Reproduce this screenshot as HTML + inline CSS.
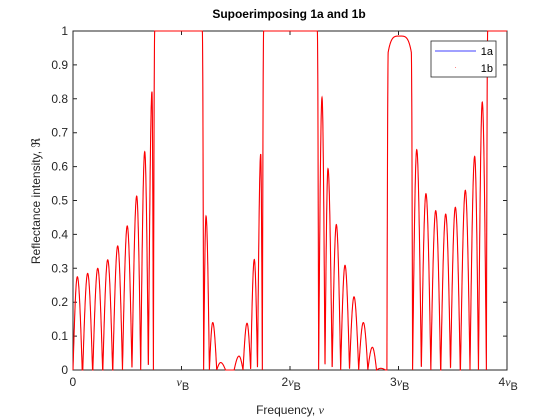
<!DOCTYPE html>
<html><head><meta charset="utf-8"><style>
body{margin:0;background:#fff}
svg{display:block;font-family:"Liberation Sans","DejaVu Sans",sans-serif}
</style></head><body>
<svg id="chart" width="560" height="420" viewBox="0 0 560 420">
<rect width="560" height="420" fill="#fff"/>
<text x="289" y="18" font-size="12" font-weight="bold" text-anchor="middle" fill="#000">Supoerimposing 1a and 1b</text>
<rect x="73" y="31" width="434" height="339" fill="none" stroke="#262626" stroke-width="1"/>
<g id="yt"></g>
<g id="xt"></g>
<path id="s1a" fill="none" stroke="#0000ff" stroke-width="0.6"/>
<path id="s1b" fill="none" stroke="#ff0000" stroke-width="1.1"/>
<text transform="translate(40,201) rotate(-90)" font-size="12" text-anchor="middle" fill="#262626">Reflectance intensity, ℜ</text>
<text x="290" y="414" font-size="12" text-anchor="middle" fill="#262626">Frequency, <tspan font-family="Liberation Serif,serif" font-style="italic">ν</tspan></text>
<g>
<rect x="431" y="41" width="65" height="36" fill="#fff" stroke="#262626" stroke-width="0.8"/>
<line x1="435" y1="51" x2="476" y2="51" stroke="#0000ff" stroke-width="0.8"/>
<text x="493" y="55" font-size="11" text-anchor="end" fill="#000">1a</text>
<rect x="455" y="67" width="1" height="1" fill="#f88"/>
<text x="493" y="72" font-size="11" text-anchor="end" fill="#000">1b</text>
</g>
</svg>
<script>
const lobeCenters=[0.040,0.135,0.228,0.320,0.412,0.500,0.587,0.661,0.728,1.226,1.288,1.361,1.530,1.604,1.671,1.730,2.295,2.350,2.427,2.507,2.590,2.676,2.759,2.836,3.168,3.253,3.343,3.435,3.524,3.616,3.702,3.772];
const lobeHeights=[0.275,0.285,0.30,0.325,0.366,0.425,0.513,0.644,0.821,0.454,0.14,0.022,0.041,0.138,0.326,0.637,0.804,0.594,0.429,0.309,0.216,0.140,0.067,0.005,0.65,0.52,0.47,0.46,0.48,0.53,0.63,0.79];
const bandStarts=[0.747,1.751,2.899,3.816];
const bandEnds=[1.198,2.258,3.124,4.05];
const bandHeights=[1,1,0.985,1];
const yTicks=[0,0.1,0.2,0.3,0.4,0.5,0.6,0.7,0.8,0.9,1];
const yTickLabels=["0","0.1","0.2","0.3","0.4","0.5","0.6","0.7","0.8","0.9","1"];
const xTicks=[0,1,2,3,4];
const xTickPrefix=["0","","2","3","4"];
const xTickHasNu=[false,true,true,true,true];

const X0=73,X1=507,Y0=370,Y1=31;
const sx=v=>X0+(v-0)/(4-0)*(X1-X0);
const sy=v=>Y0-(v-0)/(1-0)*(Y0-Y1);
const NS="http://www.w3.org/2000/svg";
const yt=document.getElementById('yt'),xt=document.getElementById('xt');
yTicks.forEach((v,i)=>{
  const y=sy(v);
  const l=document.createElementNS(NS,'path');
  l.setAttribute('d',`M${X0} ${y}h4M${X1} ${y}h-4`);l.setAttribute('stroke','#262626');
  
  
  yt.appendChild(l);
  const t=document.createElementNS(NS,'text');
  t.setAttribute('x',X0-5);t.setAttribute('y',y+4);t.setAttribute('font-size','12');
  t.setAttribute('text-anchor','end');t.setAttribute('fill','#262626');t.textContent=yTickLabels[i];
  
  
  yt.appendChild(t);
});
xTicks.forEach((v,i)=>{
  const x=sx(v);
  const l=document.createElementNS(NS,'path');
  l.setAttribute('d',`M${x} ${Y0}v-4M${x} ${Y1}v4`);l.setAttribute('stroke','#262626');
  
  
  xt.appendChild(l);
  const t=document.createElementNS(NS,'text');
  t.setAttribute('y',Y0+16);t.setAttribute('font-size','12');t.setAttribute('fill','#262626');
  let w=(xTickPrefix[i].length*7)+(xTickHasNu[i]?14:0);
  t.setAttribute('x',x-w/2+(xTickHasNu[i]?2:0));
  let html=xTickPrefix[i];
  if(xTickHasNu[i]) html+='<tspan font-family="Liberation Serif,serif" font-style="italic">ν</tspan><tspan dy="4" font-size="11">B</tspan>';
  t.innerHTML=html;
  
  
  xt.appendChild(t);
});

const W=0.006;
const feats=[];
lobeCenters.forEach((c,i)=>feats.push({t:'l',c:c,h:lobeHeights[i],L:c,R:c}));
bandStarts.forEach((s,i)=>feats.push({t:'b',s:bandStarts[i],e:bandEnds[i],h:bandHeights[i],L:bandStarts[i]-W,R:bandEnds[i]+W}));
feats.sort((a,b)=>a.L-b.L);
feats.forEach((f,i)=>{
  if(f.t==='l'){
    const pf=i>0?feats[i-1]:null, nf=i<feats.length-1?feats[i+1]:null;
    const prev=pf?(pf.t==='b'?pf.R:(pf.R+f.c)/2):-1;
    const next=nf?(nf.t==='b'?nf.L:(nf.L+f.c)/2):9;
    f.a=Math.max(0,f.c-0.045,prev);
    f.b=Math.min(f.c+0.045,next);
  }
});
function val(x){
  let y=0;
  for(const f of feats){
    if(f.t==='l'){
      if(x>=f.a&&x<=f.c) y=Math.max(y,f.h*Math.sin(Math.PI/2*(x-f.a)/(f.c-f.a)));
      else if(x>f.c&&x<=f.b) y=Math.max(y,f.h*Math.sin(Math.PI/2*(f.b-x)/(f.b-f.c)));
    } else {
      if(x>=f.s-W&&x<=f.e+W){
        let v;
        if(x<f.s+W) v=Math.sin(Math.PI/2*(x-f.s+W)/(2*W));
        else if(x>f.e-W) v=Math.sin(Math.PI/2*(f.e+W-x)/(2*W));
        else v=1;
        let top=f.h;
        if(f.h<1){const m=(f.s+f.e)/2,hw=(f.e-f.s)/2;top=f.h*(1-0.06*Math.pow((x-m)/hw,4));}
        y=Math.max(y,top*Math.max(0,v));
      }
    }
  }
  return Math.min(1,y);
}
let d='';
for(let x=0;x<=4.0001;x+=0.001){d+=(d?'L':'M')+sx(x).toFixed(2)+' '+sy(val(x)).toFixed(2);}
document.getElementById('s1a').setAttribute('d',d);
document.getElementById('s1b').setAttribute('d',d);
</script>
</body></html>
